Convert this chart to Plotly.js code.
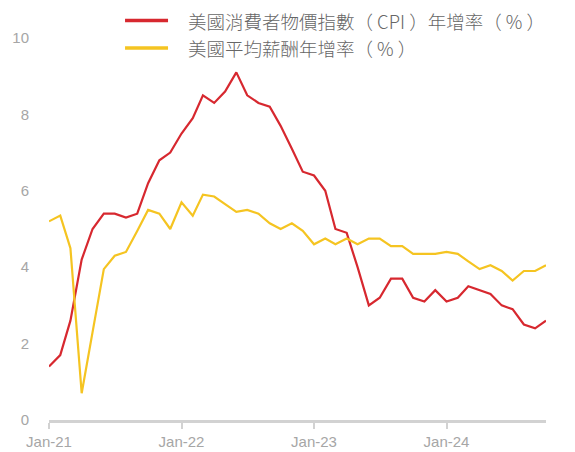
<!DOCTYPE html>
<html>
<head>
<meta charset="utf-8">
<script src="https://cdn.plot.ly/plotly-3.0.1.min.js"></script>
<style>
html,body{margin:0;padding:0;background:#fff;}
#chart{width:575px;height:452px;}
</style>
</head>
<body>
<div id="chart"></div>
<script>
var months = [
  '2021-01-01','2021-02-01','2021-03-01','2021-04-01','2021-05-01','2021-06-01',
  '2021-07-01','2021-08-01','2021-09-01','2021-10-01','2021-11-01','2021-12-01',
  '2022-01-01','2022-02-01','2022-03-01','2022-04-01','2022-05-01','2022-06-01',
  '2022-07-01','2022-08-01','2022-09-01','2022-10-01','2022-11-01','2022-12-01',
  '2023-01-01','2023-02-01','2023-03-01','2023-04-01','2023-05-01','2023-06-01',
  '2023-07-01','2023-08-01','2023-09-01','2023-10-01','2023-11-01','2023-12-01',
  '2024-01-01','2024-02-01','2024-03-01','2024-04-01','2024-05-01','2024-06-01',
  '2024-07-01','2024-08-01','2024-09-01','2024-10-01'
];
var cpiYoY = [
  1.4,1.7,2.6,4.2,5.0,5.4,5.4,5.3,5.4,6.2,6.8,7.0,
  7.5,7.9,8.5,8.3,8.6,9.1,8.5,8.3,8.2,7.7,7.1,6.5,
  6.4,6.0,5.0,4.9,4.0,3.0,3.2,3.7,3.7,3.2,3.1,3.4,
  3.1,3.2,3.5,3.4,3.3,3.0,2.9,2.5,2.4,2.6
];
var wageYoY = [
  5.2,5.35,4.5,0.7,2.3,3.95,4.3,4.4,4.95,5.5,5.4,5.0,
  5.7,5.35,5.9,5.85,5.65,5.45,5.5,5.4,5.15,5.0,5.15,4.95,
  4.6,4.75,4.6,4.75,4.6,4.75,4.75,4.55,4.55,4.35,4.35,4.35,
  4.4,4.35,4.15,3.95,4.05,3.9,3.65,3.9,3.9,4.05
];
var seriesNames = ['美國消費者物價指數（ CPI ）年增率（ % ）', '美國平均薪酬年增率（ % ）'];
var seriesColors = ['#d7282f', '#f5c421'];
var yTicks = [0, 2, 4, 6, 8, 10];
var xTicks = ['2021-01-01','2022-01-01','2023-01-01','2024-01-01'];
var xTickLabels = ['Jan-21','Jan-22','Jan-23','Jan-24'];

var traces = [
  {x: months, y: cpiYoY, name: seriesNames[0], type: 'scatter', mode: 'lines',
   line: {color: seriesColors[0], width: 2.2}},
  {x: months, y: wageYoY, name: seriesNames[1], type: 'scatter', mode: 'lines',
   line: {color: seriesColors[1], width: 2.2}}
];

// Legend drawn as key lines + labels (paper coordinates)
var legendRows = [1.0458, 0.9738];
var shapes = [];
var annotations = [];
for (var i = 0; i < seriesNames.length; i++) {
  shapes.push({type: 'line', xref: 'paper', yref: 'paper',
    x0: 0.153, x1: 0.2395, y0: legendRows[i], y1: legendRows[i],
    line: {color: seriesColors[i], width: 3.5}});
  annotations.push({xref: 'paper', yref: 'paper', x: 0.278, y: legendRows[i],
    xanchor: 'left', yanchor: 'middle', showarrow: false, text: seriesNames[i],
    borderpad: 0,
    font: {family: '"Noto Sans CJK TC", sans-serif', size: 18.5, color: '#666666', weight: 300}});
}

var layout = {
  width: 575, height: 452,
  margin: {l: 49, r: 29, t: 38, b: 32, pad: 0, autoexpand: false},
  paper_bgcolor: '#ffffff', plot_bgcolor: '#ffffff',
  showlegend: false,
  shapes: shapes,
  annotations: annotations,
  xaxis: {
    type: 'date',
    range: ['2021-01-01', '2024-10-01'],
    tickmode: 'array', tickvals: xTicks, ticktext: xTickLabels,
    showgrid: false, zeroline: false,
    showline: true, linecolor: '#d2d2d2', linewidth: 3,
    ticks: 'outside', ticklen: 6, tickwidth: 2, tickcolor: '#d2d2d2',
    tickfont: {family: '"Liberation Sans", Arial, sans-serif', size: 15, color: '#a6a6a6'},
    automargin: false
  },
  yaxis: {
    range: [0, 10],
    tickmode: 'array', tickvals: yTicks, ticktext: yTicks.map(String),
    showgrid: false, zeroline: false, showline: false,
    ticks: 'outside', ticklen: 16, tickcolor: 'rgba(0,0,0,0)',
    tickfont: {family: '"Liberation Sans", Arial, sans-serif', size: 15, color: '#a6a6a6'},
    automargin: false
  }
};

Plotly.newPlot('chart', traces, layout, {displayModeBar: false, staticPlot: true});
</script>
</body>
</html>
